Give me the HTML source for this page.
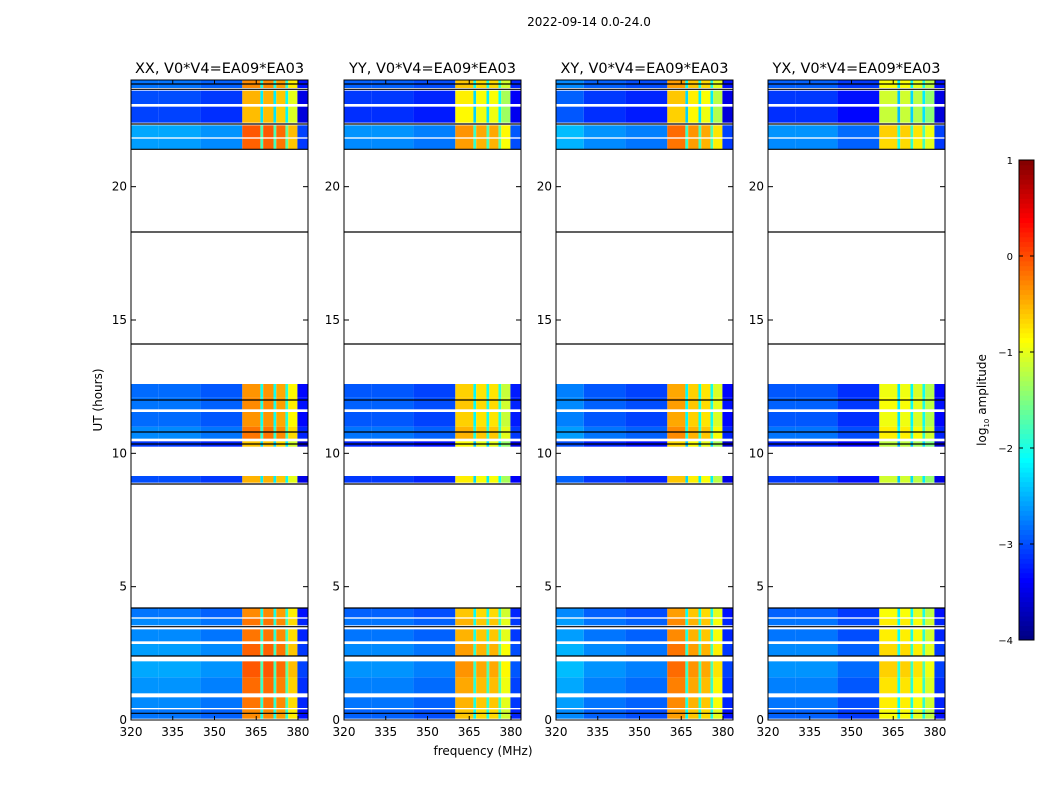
<!DOCTYPE html>
<html><head><meta charset="utf-8">
<style>
body{margin:0;background:#fff;}
svg{display:block;font-family:"DejaVu Sans","Liberation Sans",sans-serif;}
</style></head>
<body>
<svg id="fig" width="1050" height="800" viewBox="0 0 1050 800">
<rect width="1050" height="800" fill="#fff"/>
<text x="589" y="26" font-size="12" text-anchor="middle">2022-09-14 0.0-24.0</text>
<text x="483" y="755" font-size="12" text-anchor="middle">frequency (MHz)</text>
<text x="0" y="0" font-size="12" text-anchor="middle" transform="translate(102,400) rotate(-90)">UT (hours)</text>
<g id="panels"></g>
<g id="cbar"></g>
</svg>
<script>
// ---- data ----
const panelTitles = ["XX, V0*V4=EA09*EA03","YY, V0*V4=EA09*EA03","XY, V0*V4=EA09*EA03","YX, V0*V4=EA09*EA03"];
const bandEdges = [320, 330, 345, 360, 366.5, 367.5, 371.2, 372.2, 375.5, 376.5, 379.8, 383.6];
const levelsXX = [-2.7, -2.7, -2.8, -0.2, -1.9, -0.2, -1.9, -0.3, -1.8, -0.7, -3.2];
const levelsYY = [-2.8, -2.8, -2.9, -0.5, -2.0, -0.6, -1.9, -0.6, -1.8, -1.0, -3.1];
const levelsXY = [-2.6, -2.8, -2.9, -0.3, -2.0, -0.5, -1.9, -0.6, -1.9, -0.9, -3.2];
const levelsYX = [-2.8, -2.8, -3.0, -0.8, -2.1, -0.8, -2.0, -0.9, -1.9, -1.1, -3.2];
const rowStart = [0.05,0.45,1.0,1.6,2.4,2.95,3.55,3.85,8.9,10.25,10.55,11.0,11.65,12.1,21.4,21.85,22.4,23.1,23.7];
const rowEnd   = [0.4,0.85,1.6,2.2,2.85,3.4,3.8,4.2,9.15,10.45,11.0,11.55,12.1,12.6,21.8,22.3,23.0,23.6,24.0];
const rowOffset= [-0.1,0.0,0.05,0.15,0.1,0.0,0.0,-0.1,-0.3,-0.4,0.0,-0.15,-0.1,-0.15,0.1,0.15,-0.35,-0.3,-0.1];
const blackLines = [0.25, 2.4, 3.5, 4.2, 8.85, 10.35, 10.8, 12.0, 14.1, 18.3, 21.4, 22.35, 23.65, 23.85];
const xTicks = [320,335,350,365,380];
const yTicks = [0,5,10,15,20];
const cbTicks = [1,0,-1,-2,-3,-4];
const cbTickLabels = ["1","0","\u22121","\u22122","\u22123","\u22124"];

const allLevels=[levelsXX,levelsYY,levelsXY,levelsYX];
const panelLeft=[131,344,556,768], panelW=177, pTop=80, pBot=720;
const fmin=320, fmax=383.6, tmin=0, tmax=24;
const NS="http://www.w3.org/2000/svg";
function mk(tag,attrs,parent){const e=document.createElementNS(NS,tag);for(const k in attrs)e.setAttribute(k,attrs[k]);parent.appendChild(e);return e;}
function jet(v){
  let t=(v+4)/5; t=Math.max(0,Math.min(1,t));
  const r=Math.max(0,Math.min(1,1.5-Math.abs(4*t-3)));
  const g=Math.max(0,Math.min(1,1.5-Math.abs(4*t-2)));
  const b=Math.max(0,Math.min(1,1.5-Math.abs(4*t-1)));
  return `rgb(${Math.round(r*255)},${Math.round(g*255)},${Math.round(b*255)})`;
}
const yS=t=>pBot-(t-tmin)/(tmax-tmin)*(pBot-pTop);
const panelsG=document.getElementById('panels');
for(let p=0;p<4;p++){
  const L=panelLeft[p];
  const xS=f=>L+(f-fmin)/(fmax-fmin)*panelW;
  const g=mk('g',{},panelsG);
  
  
  const lv=allLevels[p];
  for(let r=0;r<rowStart.length;r++){
    for(let b=0;b<lv.length;b++){
      const x0=xS(bandEdges[b]),x1=xS(bandEdges[b+1]);
      const y0=yS(rowEnd[r]),y1=yS(rowStart[r]);
      const c=mk('rect',{x:x0,y:y0,width:x1-x0,height:y1-y0,fill:jet(lv[b]+rowOffset[r])},g);
      
      
    }
  }
  for(const t of blackLines){
    const l=mk('line',{x1:L,x2:L+panelW,y1:yS(t),y2:yS(t),stroke:'#000','stroke-width':1.2},g);
    
    
  }
  const fr=mk('rect',{x:L,y:pTop,width:panelW,height:pBot-pTop,fill:'none',stroke:'#000','stroke-width':1},g);
  
  
  const tt=mk('text',{x:L+panelW/2,y:73,'font-size':14.5,'text-anchor':'middle'},g);
  tt.textContent=panelTitles[p];
  
  
  for(const f of xTicks){
    const x=xS(f);
    mk('line',{x1:x,x2:x,y1:pBot,y2:pBot-4,stroke:'#000'},g);
    mk('line',{x1:x,x2:x,y1:pTop,y2:pTop+4,stroke:'#000'},g);
    const tx=mk('text',{x:x,y:pBot+16,'font-size':12,'text-anchor':'middle'},g);
    tx.textContent=f;
    
    
  }
  for(const t of yTicks){
    const y=yS(t);
    mk('line',{x1:L,x2:L+5,y1:y,y2:y,stroke:'#000'},g);
    mk('line',{x1:L+panelW,x2:L+panelW-5,y1:y,y2:y,stroke:'#000'},g);
    const ty=mk('text',{x:L-4,y:y+4,'font-size':12,'text-anchor':'end'},g);
    ty.textContent=t;
    
    
  }
}
const cb=document.getElementById('cbar');
const cbX=1019,cbW=15,cbTop=160,cbBot=640;
const cyS=v=>cbBot-(v+4)/5*(cbBot-cbTop);
for(let i=0;i<100;i++){
  const v0=-4+i*0.05;
  mk('rect',{x:cbX,y:cyS(v0+0.05),width:cbW,height:(cbBot-cbTop)/100+0.5,fill:jet(v0+0.025)},cb);
}
const cf=mk('rect',{x:cbX,y:cbTop,width:cbW,height:cbBot-cbTop,fill:'none',stroke:'#000'},cb);


cbTicks.forEach((v,i)=>{
  const y=cyS(v);
  mk('line',{x1:cbX,x2:cbX+4,y1:y,y2:y,stroke:'#000'},cb);
  mk('line',{x1:cbX+cbW,x2:cbX+cbW-4,y1:y,y2:y,stroke:'#000'},cb);
  const t=mk('text',{x:cbX-6,y:y+4,'font-size':10,'text-anchor':'end'},cb);
  t.textContent=cbTickLabels[i];
  
  
});
const cl=mk('text',{'font-size':12,'text-anchor':'middle',transform:'translate(986,400) rotate(-90)'},cb);
cl.innerHTML='log<tspan font-size="7" dy="3">10</tspan><tspan dy="-3"> amplitude</tspan>';


</script>
</body></html>
